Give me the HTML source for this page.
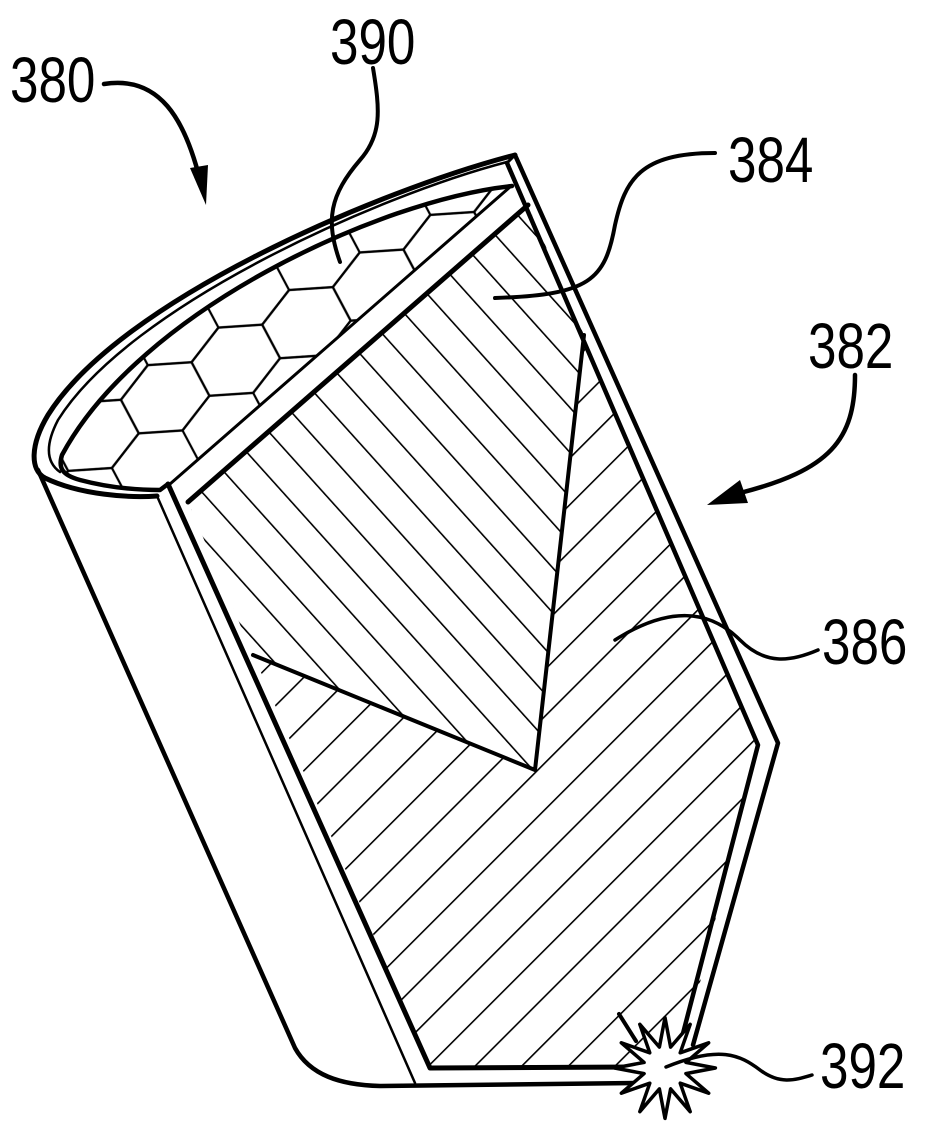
<!DOCTYPE html>
<html><head><meta charset="utf-8"><style>
html,body{margin:0;padding:0;background:#fff;}
svg{display:block;}
text{font-family:"Liberation Sans",sans-serif;font-size:64px;fill:#000;}
</style></head><body>
<svg width="946" height="1135" viewBox="0 0 946 1135" xmlns="http://www.w3.org/2000/svg">
<defs>
<pattern id="hb" width="30" height="30" patternUnits="userSpaceOnUse" patternTransform="rotate(-42)">
<line x1="0" y1="-5" x2="0" y2="35" stroke="#000" stroke-width="3.2"/>
</pattern>
<pattern id="hf" width="33" height="33" patternUnits="userSpaceOnUse" patternTransform="rotate(45)">
<line x1="0" y1="-5" x2="0" y2="38" stroke="#000" stroke-width="3.2"/>
</pattern>
<pattern id="hex" width="80" height="112" patternUnits="userSpaceOnUse" patternTransform="translate(60,200) rotate(-28)">
<g fill="none" stroke="#000" stroke-width="2.2">
<path d="M0,-37 L40,-19 L40,19 L0,37 L-40,19 L-40,-19Z"/>
<path d="M80,-37 L120,-19 L120,19 L80,37 L40,19 L40,-19Z"/>
<path d="M40,19 L80,37 L80,75 L40,93 L0,75 L0,37Z"/>
<path d="M0,75 L40,93 L40,131 L0,149 L-40,131 L-40,93Z"/>
<path d="M80,75 L120,93 L120,131 L80,149 L40,131 L40,93Z"/>
</g>
</pattern>
</defs>
<g fill="none" stroke="#000" stroke-linejoin="round" stroke-linecap="round">
<path d="M512,186 C380,200 140,310 62,455 C58,468 62,475 80,480 C110,488 140,490 160,490 L168,484 L510,188Z" fill="url(#hex)" stroke="none"/>
<polygon points="188,502 528,205 758,745 686,1040 670,1067 430,1067" fill="url(#hf)" stroke="none"/>
<polygon points="188,502 528,205 584,335 535,770 253,655" fill="#fff" stroke="none"/>
<polygon points="188,502 528,205 584,335 535,770 253,655" fill="url(#hb)" stroke="none"/>
<polyline points="584,335 535,770 253,655" stroke-width="4"/>
<path d="M515,155 C380,190 120,300 48,415 C30,445 30,470 45,478 C80,495 130,498 157,496" stroke-width="5"/>
<path d="M507,162 C380,195 130,305 58,420 C45,445 46,462 60,472" stroke-width="2.5"/>
<path d="M512,186 C380,200 140,310 62,455 C58,468 62,475 80,480 C110,488 140,490 160,490 L168,484" stroke-width="4.5"/>
<line x1="170" y1="484" x2="510" y2="187" stroke-width="3"/>
<line x1="188" y1="502" x2="528" y2="205" stroke-width="5"/>
<path d="M38,470 L295,1048 C310,1075 340,1085 380,1086 L640,1083" stroke-width="4.5"/>
<line x1="157" y1="496" x2="415" y2="1083" stroke-width="2.5"/>
<path d="M168,484 L430,1068 L640,1067" stroke-width="5"/>
<path d="M515,155 L778,743 L693,1045" stroke-width="4.5"/>
<path d="M507,163 L758,745 L680,1045" stroke-width="4.5"/>
<line x1="507" y1="163" x2="515" y2="155" stroke-width="3"/>
<polygon points="715.4,1068 685.9,1073.6 708.7,1093.2 680.2,1083.2 690.2,1111.7 670.6,1088.9 665,1118.4 659.4,1088.9 639.8,1111.7 649.8,1083.2 621.3,1093.2 644.1,1073.6 614.6,1068 644.1,1062.4 621.3,1042.8 649.8,1052.8 639.8,1024.3 659.4,1047.1 665,1017.6 670.6,1047.1 690.2,1024.3 680.2,1052.8 708.7,1042.8 685.9,1062.4" fill="#fff" stroke-width="3.5"/>
<line x1="619" y1="1014" x2="636" y2="1041" stroke-width="4"/>
<path d="M104,84 C160,75 185,120 200,180" stroke-width="4.5"/>
<polygon points="190,168 208,165 206,205" fill="#000" stroke="none"/>
<path d="M373,68 C380,110 382,135 360,160 C330,195 325,220 340,262" stroke-width="4"/>
<path d="M715,153 C640,153 625,180 615,225 C605,280 590,295 495,298" stroke-width="4"/>
<path d="M855,375 C855,440 830,470 740,493" stroke-width="4.5"/>
<polygon points="707,505 740,480 748,503" fill="#000" stroke="none"/>
<path d="M818,650 C790,662 765,665 740,640 C710,610 670,605 615,640" stroke-width="3.5"/>
<path d="M666,1067 C720,1045 740,1055 760,1070 C780,1085 795,1080 812,1075" stroke-width="3.5"/>
</g>
<text x="10" y="102" transform="translate(10,0) scale(0.8,1) translate(-10,0)">380</text>
<text x="330" y="64" transform="translate(330,0) scale(0.8,1) translate(-330,0)">390</text>
<text x="728" y="182" transform="translate(728,0) scale(0.8,1) translate(-728,0)">384</text>
<text x="808" y="368" transform="translate(808,0) scale(0.8,1) translate(-808,0)">382</text>
<text x="822" y="664" transform="translate(822,0) scale(0.8,1) translate(-822,0)">386</text>
<text x="820" y="1088" transform="translate(820,0) scale(0.8,1) translate(-820,0)">392</text>
</svg>
</body></html>
